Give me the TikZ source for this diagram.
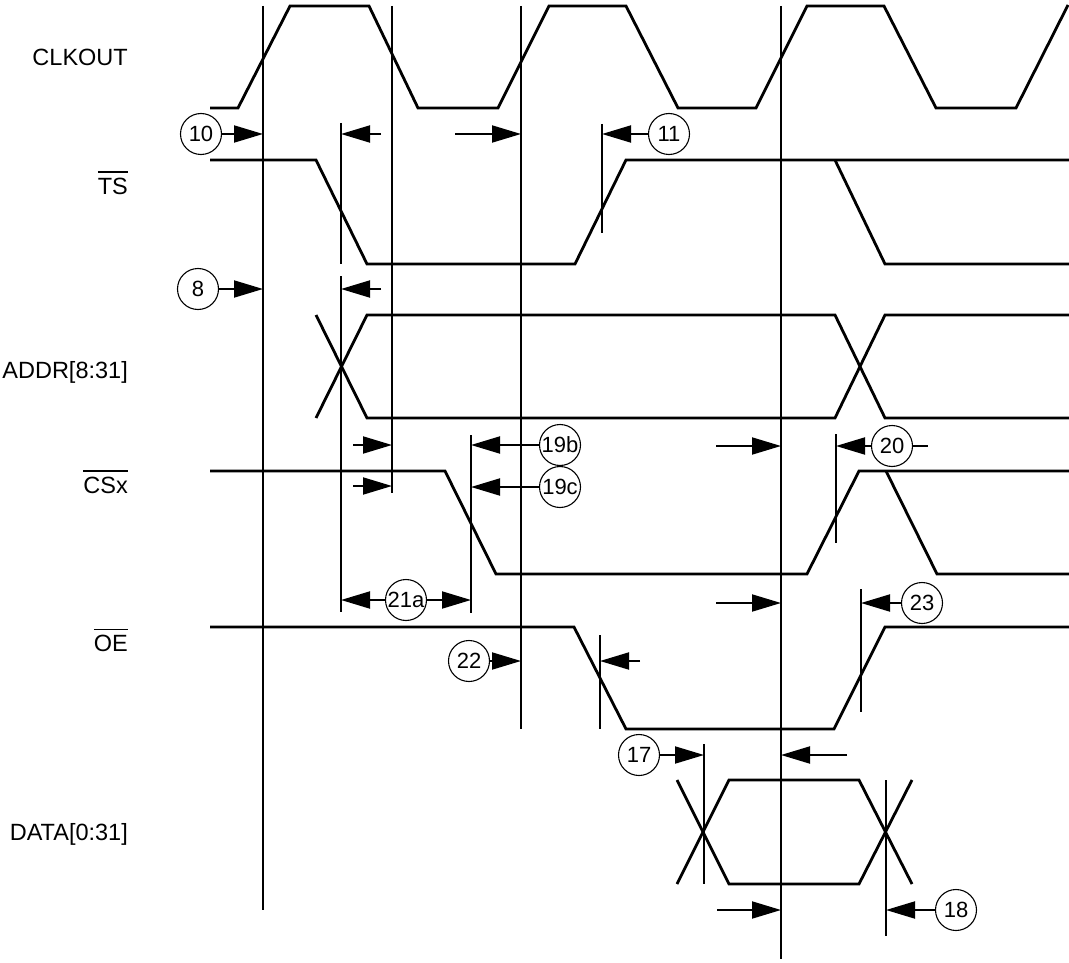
\documentclass[tikz,border=0pt]{standalone}
\usepackage{fontspec}
\setmainfont{Liberation Sans}
\usetikzlibrary{arrows.meta}
\newcommand\ovl[1]{\vbox{\hrule height 1.5pt\kern 5pt\hbox{#1}}}
\begin{document}
\begin{tikzpicture}[x=1pt,y=-1pt,
  sig/.style={line width=2.8pt, line join=miter},
  vline/.style={line width=1.9pt},
  arr/.style={line width=1.9pt, -{Triangle[length=29pt,width=17pt]}},
  circ/.style={draw, circle, line width=1.1pt, minimum size=41pt, inner sep=0pt, font=\fontsize{22}{22}\selectfont},
  lbl/.style={inner sep=0pt, anchor=base east, font=\fontsize{23.5}{28}\selectfont}]
\useasboundingbox (0,0) rectangle (1069,963);

% ---------- labels ----------
\node[lbl] (lclk) at (128,65.5) {CLKOUT};
\node[lbl] (lts) at (128,194) {\ovl{TS}};
\node[lbl] (laddr) at (128,378.5) {ADDR[8:31]};
\node[lbl] (lcs) at (128,493.3) {\ovl{CSx}};
\node[lbl] (loe) at (128,651.7) {\ovl{OE}};
\node[lbl] (ldata) at (128,840) {DATA[0:31]};

% ---------- waveforms ----------
\draw[sig] (210,108) -- (238,108) -- (290,6) -- (369,6) -- (418,108) -- (498,108) -- (549,6) -- (626,6) -- (678,108) -- (756,108) -- (807,6) -- (884,6) -- (936,108) -- (1016,108) -- (1068,5);
\draw[sig] (210,160) -- (316,160) -- (367,264) -- (575,264) -- (626,160) -- (1069,160);
\draw[sig] (835,160) -- (885,264) -- (1069,264);
\draw[sig] (316,315) -- (367,418) -- (835,418) -- (885,315) -- (1069,315);
\draw[sig] (316,418) -- (367,315) -- (835,315) -- (885,418) -- (1069,418);
\draw[sig] (210,471) -- (445,471) -- (496,574) -- (807,574) -- (859,471) -- (1069,471);
\draw[sig] (886,471) -- (937,574) -- (1069,574);
\draw[sig] (210,627) -- (574,627) -- (626,729) -- (834,729) -- (885,627) -- (1069,627);
\draw[sig] (677,780) -- (729,884) -- (859,884) -- (912,780);
\draw[sig] (677,884) -- (729,780) -- (859,780) -- (912,884);

% ---------- reference lines ----------
\coordinate (v1t) at (263,6);   \coordinate (v1b) at (263,910);
\coordinate (v2t) at (392,6);   \coordinate (v2b) at (392,493);
\coordinate (v3t) at (521,6);   \coordinate (v3b) at (521,729);
\coordinate (v4t) at (781,6);   \coordinate (v4b) at (781,959);
\coordinate (s1t) at (341,123); \coordinate (s1b) at (341,264);
\coordinate (s2t) at (341,276); \coordinate (s2b) at (341,612);
\coordinate (s3t) at (602,124); \coordinate (s3b) at (602,233);
\coordinate (s4t) at (471,435); \coordinate (s4b) at (471,613);
\coordinate (s5t) at (836,434); \coordinate (s5b) at (836,543);
\coordinate (s6t) at (861,589); \coordinate (s6b) at (861,712);
\coordinate (s7t) at (600,635); \coordinate (s7b) at (600,729);
\coordinate (s8t) at (704,744); \coordinate (s8b) at (704,884);
\coordinate (s9t) at (886,780); \coordinate (s9b) at (886,936);
\foreach \a in {v1,v2,v3,v4,s1,s2,s3,s4,s5,s6,s7,s8,s9}
  \draw[vline] (\a t) -- (\a b);

% ---------- numbered circles ----------
\node[circ] (c10) at (201,134) {\makebox[0pt]{10}};
\node[circ] (c11) at (669,134) {\makebox[0pt]{11}};
\node[circ] (c8) at (198,289) {\makebox[0pt]{8}};
\node[circ] (c19b) at (560,445) {\makebox[0pt]{19b}};
\node[circ] (c19c) at (560,487) {\makebox[0pt]{19c}};
\node[circ] (c20) at (892,446) {\makebox[0pt]{20}};
\node[circ] (c21a) at (406,600) {\makebox[0pt]{21a}};
\node[circ] (c23) at (922,603) {\makebox[0pt]{23}};
\node[circ] (c22) at (469,661) {\makebox[0pt]{22}};
\node[circ] (c17) at (639,755) {\makebox[0pt]{17}};
\node[circ] (c18) at (956,910) {\makebox[0pt]{18}};

% ---------- arrows ----------
\coordinate (t10) at (263,134);  \draw[arr] (c10) -- (t10);
\coordinate (p1s) at (381,134);  \coordinate (p1e) at (341,134);  \draw[arr] (p1s) -- (p1e);
\coordinate (p2s) at (455,134);  \coordinate (p2e) at (521,134);  \draw[arr] (p2s) -- (p2e);
\coordinate (t11) at (602,134);  \draw[arr] (c11) -- (t11);
\coordinate (t8) at (263,289);   \draw[arr] (c8) -- (t8);
\coordinate (p3s) at (381,289);  \coordinate (p3e) at (341,289);  \draw[arr] (p3s) -- (p3e);
\coordinate (p4s) at (353,445);  \coordinate (p4e) at (392,445);  \draw[arr] (p4s) -- (p4e);
\coordinate (p5s) at (353,486);  \coordinate (p5e) at (392,486);  \draw[arr] (p5s) -- (p5e);
\coordinate (t19b) at (471,445); \draw[arr] (c19b) -- (t19b);
\coordinate (t19c) at (471,487); \draw[arr] (c19c) -- (t19c);
\coordinate (t21l) at (341,600); \draw[arr] (c21a) -- (t21l);
\coordinate (t21r) at (471,600); \draw[arr] (c21a) -- (t21r);
\coordinate (p6s) at (716,446);  \coordinate (p6e) at (781,446);  \draw[arr] (p6s) -- (p6e);
\coordinate (t20) at (836,446);  \draw[arr] (c20) -- (t20);
\coordinate (e20) at (928,446);  \draw[vline] (c20) -- (e20);
\coordinate (p7s) at (716,603);  \coordinate (p7e) at (781,603);  \draw[arr] (p7s) -- (p7e);
\coordinate (t23) at (861,603);  \draw[arr] (c23) -- (t23);
\coordinate (t22) at (521,661);  \draw[arr] (c22) -- (t22);
\coordinate (p8s) at (640,661);  \coordinate (p8e) at (600,661);  \draw[arr] (p8s) -- (p8e);
\coordinate (t17) at (704,755);  \draw[arr] (c17) -- (t17);
\coordinate (p9s) at (847,755);  \coordinate (p9e) at (781,755);  \draw[arr] (p9s) -- (p9e);
\coordinate (p10s) at (717,910); \coordinate (p10e) at (781,910); \draw[arr] (p10s) -- (p10e);
\coordinate (t18) at (886,910);  \draw[arr] (c18) -- (t18);
\end{tikzpicture}
\end{document}
